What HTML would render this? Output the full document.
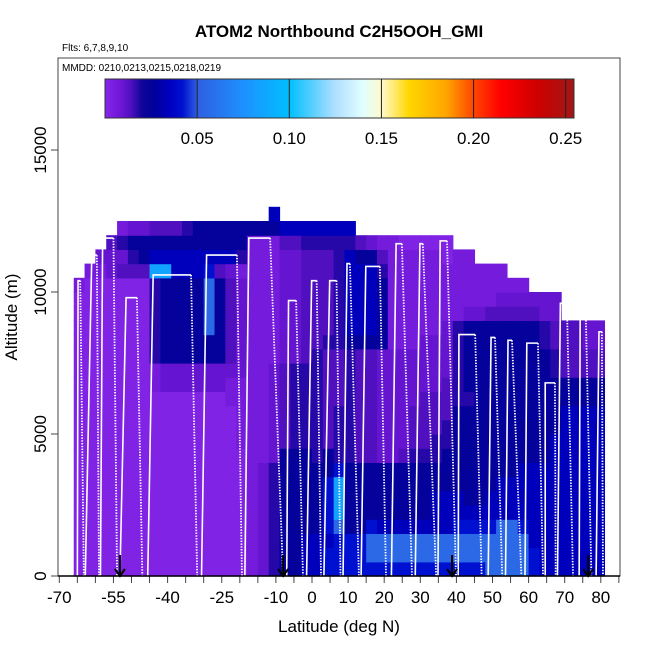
<!DOCTYPE html>
<html><head><meta charset="utf-8"><style>
html,body{margin:0;padding:0;background:#fff;}
svg{display:block;font-family:"Liberation Sans",sans-serif;}
</style></head><body>
<svg id="chart" width="650" height="650" viewBox="0 0 650 650" xmlns="http://www.w3.org/2000/svg">
<text x="339" y="37" text-anchor="middle" font-size="17" font-weight="bold">ATOM2 Northbound C2H5OOH_GMI</text>
<text x="62" y="51" font-size="10">Flts: 6,7,8,9,10</text>
<g id="heat"></g>
<g id="tracks"></g>
<g id="arrows"></g>
<rect x="58" y="58" width="562" height="518" fill="none" stroke="#444" stroke-width="1"/>
<text x="62" y="71" font-size="10">MMDD: 0210,0213,0215,0218,0219</text>
<g id="cbar"></g>
<g id="xaxis"></g>
<g id="yaxis"></g>
<text x="339" y="632" text-anchor="middle" font-size="17">Latitude (deg N)</text>
<text transform="translate(17,317) rotate(-90)" text-anchor="middle" font-size="17">Altitude (m)</text>
</svg>
<script>
const colLatStart = -66;
const colLatStep = 3;
const rowAltStep = 500;
const levelValues = [0.002,0.006,0.010,0.014,0.018,0.025,0.034,0.042,0.055,0.085];
const columns = [
"000000000000000000001",
"0000000000000000000001",
"00000000000000000000012",
"000000000000000000000223",
"0000000000000000000003241",
"0000000000000000000003452",
"0000000000000000000003552",
"0000000000000114444449653",
"0000000000000225555559653",
"0000000000000225555556653",
"0000000000000225555556654",
"0000000000000225555556655",
"0000000000000225588887655",
"0000000000000225555553655",
"0000000000001123333332655",
"0000000001111122222221455",
"1111111111111111111111115",
"2222222211111111111111115",
"44444444222222211111111156",
"5555555553333332222222236",
"5555555554444442222222236",
"6665555554444443333333346",
"6665555544444444333333346",
"7767777553333333433333346",
"7778999744443333444444446",
"7775555544444444566666646",
"777555553333333356666653",
"788755553333333356666652",
"788655552222222255555431",
"788655552222222211111111",
"788655553222222211111110",
"788655554333222211111110",
"788655554333322221111110",
"788666554433322221111110",
"788666555443332222111100",
"78876655555544444411111",
"78876555555545555521111",
"7887655555555555552111",
"8887665555555555553111",
"8888666555555555553211",
"888866655555555555321",
"888766665555555555321",
"77666666555555555532",
"66666666555555554422",
"66666666665555443322",
"666666666666553333",
"666666666666553333",
"666666666666553322",
"666666666666553322"
];
const trackUp = [-65.0,-62.8,-58.6,-53.2,-45.5,-30.6,-18.6,-7.0,-1.5,3.3,8.6,13.6,22.0,28.6,34.9,40.5,48.8,53.6,59.0,64.6,68.0,74.0,78.7];
const trackTopStart = [-64.8,-61.0,-58.0,-51.5,-44.0,-29.2,-17.5,-6.5,-0.1,4.9,9.7,14.9,23.3,29.9,35.5,40.7,49.6,54.3,59.5,64.6,68.8,74.3,79.5];
const trackTopEnd = [-64.2,-59.6,-55.0,-48.5,-33.5,-20.8,-11.6,-4.4,1.3,6.8,10.5,18.8,24.9,30.7,37.4,45.2,50.7,55.4,62.6,67.3,70.6,75.8,80.3];
const trackDown = [-63.2,-59.0,-54.0,-47.0,-31.8,-19.4,-8.0,-2.5,2.5,7.9,13.0,20.5,27.7,34.4,39.9,47.0,52.7,58.0,64.0,67.5,72.3,77.4,80.6];
const trackAlt = [10400,11300,11900,9800,10600,11300,11900,9700,10400,10400,11000,10900,11700,11700,11800,8500,8400,8300,8200,6800,9600,9500,8600];
const arrowLats = [-53.2,-8.0,38.8,76.5];
const xTickLabels = [-70,-55,-40,-25,-10,0,10,20,30,40,50,60,70,80];
const yTickLabels = [0,5000,10000,15000];
const cbarTicks = [0.05,0.10,0.15,0.20,0.25];
const cbarMax = 0.2545;
const colorStops = [[0,"#8526e8"],[0.008,"#7018d8"],[0.014,"#5010c0"],[0.02,"#10049a"],[0.027,"#00009c"],[0.035,"#0000c0"],[0.042,"#0010d0"],[0.05,"#2f5fe0"],[0.075,"#1e90ff"],[0.1,"#00bfff"],[0.125,"#b0dfff"],[0.14,"#e0ffff"],[0.15,"#fffacd"],[0.165,"#ffd700"],[0.185,"#ffa500"],[0.2,"#ff4500"],[0.215,"#ff0000"],[0.235,"#cd0000"],[0.255,"#a01818"]];

const X = lat => 312 + lat*3.61;
const Y = alt => 576 - alt*(142/5000);
const NS = "http://www.w3.org/2000/svg";
function mk(tag, attrs, parent){const e=document.createElementNS(NS,tag);for(const k in attrs)e.setAttribute(k,attrs[k]);parent.appendChild(e);return e;}
function hex(c){return [parseInt(c.slice(1,3),16),parseInt(c.slice(3,5),16),parseInt(c.slice(5,7),16)];}
function color(v){
  if(v<=colorStops[0][0])return colorStops[0][1];
  for(let i=1;i<colorStops.length;i++){
    if(v<=colorStops[i][0]){
      const a=colorStops[i-1],b=colorStops[i];const t=(v-a[0])/(b[0]-a[0]);
      const ca=hex(a[1]),cb=hex(b[1]);
      return "rgb("+ca.map((x,j)=>Math.round(x+(cb[j]-x)*t)).join(",")+")";
    }
  }
  return colorStops[colorStops.length-1][1];
}

const heat=document.getElementById("heat");
columns.forEach((s,i)=>{
  const l0=colLatStart+i*colLatStep, x0=X(l0), x1=X(l0+colLatStep);
  for(let r=0;r<s.length;r++){
    const v=levelValues[+s[r]];
    const y0=Y((r+1)*rowAltStep), y1=Y(r*rowAltStep);
    const c=mk("rect",{x:x0,y:y0,width:x1-x0+0.6,height:y1-y0+0.6,fill:color(v)},heat);
    
    
  }
});

const tr=document.getElementById("tracks");
trackUp.forEach((u,i)=>{
  const top=Y(trackAlt[i]);
  const a=mk("polyline",{points:`${X(u)},${Y(0)} ${X(trackTopStart[i])},${top} ${X(trackTopEnd[i])},${top}`,fill:"none",stroke:"#fff","stroke-width":1.6},tr);
  
  
  const d=mk("line",{x1:X(trackTopEnd[i]),y1:top,x2:X(trackDown[i]),y2:Y(0),stroke:"#fff","stroke-width":1.8,"stroke-dasharray":"1.4,1.4"},tr);
  
  
});

const ar=document.getElementById("arrows");
arrowLats.forEach(l=>{
  const g=mk("g",{},ar);
  
  
  mk("line",{x1:X(l),y1:555,x2:X(l),y2:576,stroke:"#000","stroke-width":2},g);
  mk("polyline",{points:`${X(l)-5},569 ${X(l)},576 ${X(l)+5},569`,fill:"none",stroke:"#000","stroke-width":2},g);
});

const cb=document.getElementById("cbar");
const cbx0=105, cbx1=574, cbW=cbx1-cbx0;
for(let i=0;i<cbW;i++){
  const v=(i+0.5)/cbW*cbarMax;
  const r=mk("rect",{x:cbx0+i,y:79,width:1.2,height:39,fill:color(v)},cb);
  
  
}
mk("rect",{x:cbx0,y:79,width:cbW,height:39,fill:"none",stroke:"#333","stroke-width":1},cb);
cbarTicks.forEach(t=>{
  const x=cbx0+t/cbarMax*cbW;
  mk("line",{x1:x,y1:79,x2:x,y2:118,stroke:"#222","stroke-width":1},cb);
  const tx=mk("text",{x:x,y:144,"text-anchor":"middle","font-size":17},cb);
  tx.textContent=t.toFixed(2);
  
  
});

const xa=document.getElementById("xaxis");
for(let l=-70;l<=85;l+=5){mk("line",{x1:X(l),y1:576,x2:X(l),y2:583,stroke:"#444"},xa);}
mk("line",{x1:58,y1:576,x2:620,y2:576,stroke:"#000","stroke-width":1.5},xa);
xTickLabels.forEach(l=>{
  const t=mk("text",{x:X(l),y:603,"text-anchor":"middle","font-size":17},xa);
  t.textContent=String(l);
  
  
});
const ya=document.getElementById("yaxis");
yTickLabels.forEach(v=>{
  mk("line",{x1:51,y1:Y(v),x2:58,y2:Y(v),stroke:"#444"},ya);
  const t=mk("text",{transform:`translate(46,${Y(v)}) rotate(-90)`,"text-anchor":"middle","font-size":17},ya);
  t.textContent=String(v);
  
  
});
</script>
</body></html>
